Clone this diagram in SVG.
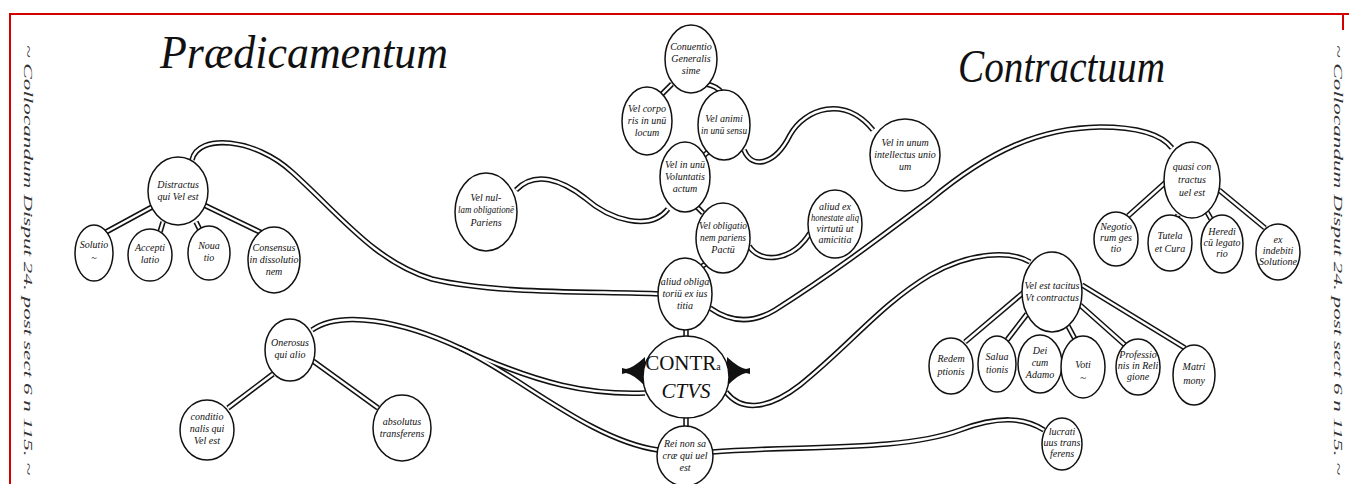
<svg xmlns="http://www.w3.org/2000/svg" xmlns:xlink="http://www.w3.org/1999/xlink" width="1349" height="484" viewBox="0 0 1349 484">
<style>
.n{fill:#fff;stroke:#111;stroke-width:1.5}
.t{font-family:"Liberation Serif",serif;font-style:italic;font-size:10px;fill:#111;text-anchor:middle}
.o{fill:none;stroke:#111;stroke-width:5.5}
.i{fill:none;stroke:#fff;stroke-width:2.4}
.side{font-family:"Liberation Serif",serif;font-style:italic;font-size:13px;fill:#333}
.title{font-family:"Liberation Serif",serif;font-style:italic;fill:#111}
</style>
<defs>
<path id="c1" d="M672,84 L662,94"/>
<path id="c2" d="M706,84 Q717,86 722,93"/>
<path id="c3" d="M708,152 L701,158"/>
<path id="c4" d="M744,150 C752,170 775,165 790,135 C805,108 845,95 873,130"/>
<path id="c5" d="M516,190 C535,170 562,180 585,198 C610,220 650,232 668,209"/>
<path id="c6" d="M696,206 L703,213"/>
<path id="c7" d="M749,246 C760,264 792,262 810,233"/>
<path id="c8" d="M709,262 L699,268"/>
<path id="c9" d="M686,328 L686,340"/>
<path id="c10" d="M686,415 L686,428"/>
<path id="c11" d="M192,160 C198,133 255,138 292,172 C340,215 375,262 432,279 C500,295 600,291 660,294"/>
<path id="c12" d="M710,308 C730,322 752,324 775,310 C830,275 870,245 930,200 C990,150 1040,128 1100,127 C1140,127 1162,135 1172,148"/>
<path id="c13" d="M726,392 C740,410 765,412 800,385 C850,345 880,305 930,275 C970,252 1010,250 1030,262"/>
<path id="c14" d="M312,330 C340,310 400,320 460,348 C540,385 590,395 645,393"/>
<path id="c15" d="M460,348 C520,376 590,440 658,450"/>
<path id="c16" d="M712,452 C800,445 900,452 960,430 C1000,415 1025,418 1044,430"/>
<path id="c17" d="M152,207 L106,232"/>
<path id="c18" d="M163,222 L160,232"/>
<path id="c19" d="M196,222 L200,230"/>
<path id="c20" d="M204,205 L262,233"/>
<path id="c21" d="M1166,182 L1128,216"/>
<path id="c22" d="M1178,215 L1176,219"/>
<path id="c23" d="M1207,212 L1211,219"/>
<path id="c24" d="M1219,190 L1265,228"/>
<path id="c25" d="M1024,292 L965,342"/>
<path id="c26" d="M1027,314 L1007,340"/>
<path id="c27" d="M1068,326 L1075,339"/>
<path id="c28" d="M1080,305 L1125,345"/>
<path id="c29" d="M1082,285 L1185,348"/>
<path id="c30" d="M273,374 L228,408"/>
<path id="c31" d="M313,361 L378,408"/>
</defs>
<g id="frame" fill="none" stroke="#d40000" stroke-width="2">
<path d="M10,484 L10,14 L1349,14"/>
<path d="M1343,14 L1343,30"/>
</g>
<g id="titles">
<text class="title" x="160" y="68" font-size="46" textLength="288" lengthAdjust="spacingAndGlyphs">Prædicamentum</text>
<text class="title" x="958" y="82" font-size="46" textLength="207" lengthAdjust="spacingAndGlyphs">Contractuum</text>
<text class="side" transform="translate(24,45) rotate(90)" textLength="430" lengthAdjust="spacingAndGlyphs">~ Collocandum Disput 24. post sect 6 n 115. ~</text>
<text class="side" transform="translate(1334,45) rotate(90)" textLength="430" lengthAdjust="spacingAndGlyphs">~ Collocandum Disput 24. post sect 6 n 115. ~</text>
</g>
<g id="connectors">
<g class="o">
<use xlink:href="#c1"/><use xlink:href="#c2"/><use xlink:href="#c3"/><use xlink:href="#c4"/><use xlink:href="#c5"/><use xlink:href="#c6"/><use xlink:href="#c7"/><use xlink:href="#c8"/><use xlink:href="#c9"/><use xlink:href="#c10"/><use xlink:href="#c11"/><use xlink:href="#c12"/><use xlink:href="#c13"/><use xlink:href="#c14"/><use xlink:href="#c15"/><use xlink:href="#c16"/><use xlink:href="#c17"/><use xlink:href="#c18"/><use xlink:href="#c19"/><use xlink:href="#c20"/><use xlink:href="#c21"/><use xlink:href="#c22"/><use xlink:href="#c23"/><use xlink:href="#c24"/><use xlink:href="#c25"/><use xlink:href="#c26"/><use xlink:href="#c27"/><use xlink:href="#c28"/><use xlink:href="#c29"/><use xlink:href="#c30"/><use xlink:href="#c31"/>
</g>
<g class="i">
<use xlink:href="#c1"/><use xlink:href="#c2"/><use xlink:href="#c3"/><use xlink:href="#c4"/><use xlink:href="#c5"/><use xlink:href="#c6"/><use xlink:href="#c7"/><use xlink:href="#c8"/><use xlink:href="#c9"/><use xlink:href="#c10"/><use xlink:href="#c11"/><use xlink:href="#c12"/><use xlink:href="#c13"/><use xlink:href="#c14"/><use xlink:href="#c15"/><use xlink:href="#c16"/><use xlink:href="#c17"/><use xlink:href="#c18"/><use xlink:href="#c19"/><use xlink:href="#c20"/><use xlink:href="#c21"/><use xlink:href="#c22"/><use xlink:href="#c23"/><use xlink:href="#c24"/><use xlink:href="#c25"/><use xlink:href="#c26"/><use xlink:href="#c27"/><use xlink:href="#c28"/><use xlink:href="#c29"/><use xlink:href="#c30"/><use xlink:href="#c31"/>
</g>
</g>
<g id="n-conuentio"><ellipse class="n" cx="691" cy="59" rx="26" ry="34"/><text class="t" x="691" y="50">Conuentio<tspan x="691" dy="12">Generalis</tspan><tspan x="691" dy="12">sime</tspan></text></g>
<g id="n-corporis"><ellipse class="n" cx="647" cy="121" rx="25" ry="34"/><text class="t" x="647" y="112">Vel corpo<tspan x="647" dy="12">ris in unū</tspan><tspan x="647" dy="12">locum</tspan></text></g>
<g id="n-animi"><ellipse class="n" cx="724" cy="125" rx="26" ry="35"/><text class="t" x="724" y="122" font-size="9.5">Vel animi</text><text class="t" x="724" y="134" font-size="9.5" textLength="46" lengthAdjust="spacingAndGlyphs">in unū sensu</text></g>
<g id="n-voluntatis"><ellipse class="n" cx="685" cy="177" rx="25" ry="35"/><text class="t" x="685" y="168">Vel in unū<tspan x="685" dy="12">Voluntatis</tspan><tspan x="685" dy="12">actum</tspan></text></g>
<g id="n-nullam"><ellipse class="n" cx="486" cy="212" rx="31" ry="39"/><text class="t" x="486" y="201">Vel nul-</text><text class="t" x="486" y="213" textLength="56" lengthAdjust="spacingAndGlyphs">lam obligationē</text><text class="t" x="486" y="226">Pariens</text></g>
<g id="n-pactum"><ellipse class="n" cx="723" cy="238" rx="27" ry="35"/><text class="t" x="723" y="229" textLength="48" lengthAdjust="spacingAndGlyphs">Vel obligatio</text><text class="t" x="723" y="241" textLength="46" lengthAdjust="spacingAndGlyphs">nem pariens</text><text class="t" x="723" y="253">Pactū</text></g>
<g id="n-honestate"><ellipse class="n" cx="835" cy="224" rx="27" ry="34"/><text class="t" x="835" y="210" font-size="9">aliud ex</text><text class="t" x="835" y="221" font-size="9" textLength="48" lengthAdjust="spacingAndGlyphs">honestate aliq</text><text class="t" x="835" y="232" font-size="9">virtutū ut</text><text class="t" x="835" y="243" font-size="9">amicitia</text></g>
<g id="n-intellectus"><ellipse class="n" cx="905" cy="155" rx="35" ry="36"/><text class="t" x="905" y="146">Vel in unum<tspan x="905" dy="12">intellectus unio</tspan><tspan x="905" dy="12">um</tspan></text></g>
<g id="n-obligatorium"><ellipse class="n" cx="685" cy="294" rx="27" ry="36"/><text class="t" x="685" y="285" font-size="9.5">aliud obliga<tspan x="685" dy="12">toriū ex ius</tspan><tspan x="685" dy="12">titia</tspan></text></g>
<g id="n-contractus"><path d="M645,357 Q633,368 626,369 L622,368 L622,374 L626,373 Q633,374 645,386 Z" fill="#111"/><path d="M727,357 Q739,368 746,369 L750,368 L750,374 L746,373 Q739,374 727,386 Z" fill="#111"/><ellipse class="n" cx="686" cy="377" rx="43" ry="41"/><text x="683" y="370" style="font-family:'Liberation Serif',serif;font-size:21px;fill:#111;text-anchor:middle">CONTR<tspan font-size="10">a</tspan></text><text x="686" y="398" style="font-family:'Liberation Serif',serif;font-style:italic;font-size:21px;fill:#111;text-anchor:middle">CTVS</text></g>
<g id="n-rei"><ellipse class="n" cx="685" cy="456" rx="28" ry="30"/><text class="t" x="685" y="447">Rei non sa<tspan x="685" dy="12">cræ qui uel</tspan><tspan x="685" dy="12">est</tspan></text></g>
<g id="n-distractus"><ellipse class="n" cx="178" cy="191" rx="30" ry="34"/><text class="t" x="178" y="188">Distractus<tspan x="178" dy="12">qui Vel est</tspan></text></g>
<g id="n-solutio"><ellipse class="n" cx="94" cy="253" rx="19" ry="28"/><text class="t" x="94" y="248">Solutio<tspan x="94" dy="13">~</tspan></text></g>
<g id="n-acceptilatio"><ellipse class="n" cx="150" cy="255" rx="22" ry="26"/><text class="t" x="150" y="251">Accepti<tspan x="150" dy="12">latio</tspan></text></g>
<g id="n-nouatio"><ellipse class="n" cx="209" cy="253" rx="21" ry="27"/><text class="t" x="209" y="249">Noua<tspan x="209" dy="12">tio</tspan></text></g>
<g id="n-consensus"><ellipse class="n" cx="274" cy="260" rx="26" ry="33"/><text class="t" x="274" y="251" font-size="9">Consensus<tspan x="274" dy="12">in dissolutio</tspan><tspan x="274" dy="12">nem</tspan></text></g>
<g id="n-quasi"><ellipse class="n" cx="1192" cy="180" rx="28" ry="38"/><text class="t" x="1192" y="170">quasi con<tspan x="1192" dy="13">tractus</tspan><tspan x="1192" dy="13">uel est</tspan></text></g>
<g id="n-negotiorum"><ellipse class="n" cx="1116" cy="239" rx="22" ry="27"/><text class="t" x="1116" y="230" font-size="9">Negotio<tspan x="1116" dy="11">rum ges</tspan><tspan x="1116" dy="11">tio</tspan></text></g>
<g id="n-tutela"><ellipse class="n" cx="1170" cy="243" rx="22" ry="28"/><text class="t" x="1170" y="239">Tutela<tspan x="1170" dy="13">et Cura</tspan></text></g>
<g id="n-heredi"><ellipse class="n" cx="1222" cy="244" rx="21" ry="29"/><text class="t" x="1222" y="235" font-size="9">Heredi<tspan x="1222" dy="11">cū legato</tspan><tspan x="1222" dy="11">rio</tspan></text></g>
<g id="n-indebiti"><ellipse class="n" cx="1278" cy="252" rx="22" ry="28"/><text class="t" x="1278" y="243" font-size="9">ex<tspan x="1278" dy="11">indebiti</tspan><tspan x="1278" dy="11">Solutione</tspan></text></g>
<g id="n-tacitus"><ellipse class="n" cx="1052" cy="292" rx="30" ry="40"/><text class="t" x="1052" y="289" font-size="9">Vel est tacitus<tspan x="1052" dy="12">Vt contractus</tspan></text></g>
<g id="n-redemptionis"><ellipse class="n" cx="951" cy="366" rx="22" ry="28"/><text class="t" x="951" y="362">Redem<tspan x="951" dy="13">ptionis</tspan></text></g>
<g id="n-saluationis"><ellipse class="n" cx="997" cy="364" rx="19" ry="28"/><text class="t" x="997" y="360">Salua<tspan x="997" dy="13">tionis</tspan></text></g>
<g id="n-adamo"><ellipse class="n" cx="1040" cy="364" rx="22" ry="29"/><text class="t" x="1040" y="354">Dei<tspan x="1040" dy="12">cum</tspan><tspan x="1040" dy="12">Adamo</tspan></text></g>
<g id="n-voti"><ellipse class="n" cx="1083" cy="367" rx="22" ry="31"/><text class="t" x="1083" y="368" font-size="14">Voti<tspan x="1083" dy="13" font-size="11">~</tspan></text></g>
<g id="n-professionis"><ellipse class="n" cx="1138" cy="367" rx="22" ry="28"/><text class="t" x="1138" y="358" font-size="8.5">Professio<tspan x="1138" dy="11">nis in Reli</tspan><tspan x="1138" dy="11">gione</tspan></text></g>
<g id="n-matrimony"><ellipse class="n" cx="1194" cy="375" rx="21" ry="30"/><text class="t" x="1194" y="370">Matri<tspan x="1194" dy="14">mony</tspan></text></g>
<g id="n-lucratiuus"><ellipse class="n" cx="1062" cy="444" rx="20" ry="26"/><text class="t" x="1062" y="435" font-size="9">lucrati<tspan x="1062" dy="11">uus trans</tspan><tspan x="1062" dy="11">ferens</tspan></text></g>
<g id="n-onerosus"><ellipse class="n" cx="290" cy="350" rx="25" ry="31"/><text class="t" x="290" y="346">Onerosus<tspan x="290" dy="12">qui alio</tspan></text></g>
<g id="n-conditionalis"><ellipse class="n" cx="207" cy="430" rx="27" ry="30"/><text class="t" x="207" y="420">conditio<tspan x="207" dy="12">nalis qui</tspan><tspan x="207" dy="12">Vel est</tspan></text></g>
<g id="n-absolutus"><ellipse class="n" cx="402" cy="428" rx="29" ry="33"/><text class="t" x="402" y="425">absolutus<tspan x="402" dy="12">transferens</tspan></text></g>
</svg>
